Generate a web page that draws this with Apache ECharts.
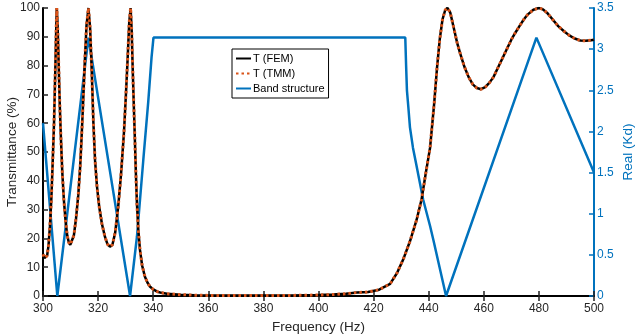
<!DOCTYPE html>
<html>
<head>
<meta charset="utf-8">
<script src="https://cdn.jsdelivr.net/npm/echarts@6/dist/echarts.min.js"></script>
<style>
  html, body { margin: 0; padding: 0; background: #fff; }
  #chart { width: 639px; height: 336px; }
</style>
</head>
<body>
<div id="chart"></div>
<script>
// transmittance: frequency (Hz) and T (%)
const tFreq = [300, 300.5, 301, 301.5, 302, 302.5, 303, 303.5, 304, 304.5, 304.8, 305, 305.3, 305.7, 306.1, 306.5, 307, 307.6, 308.2, 308.8, 309.4, 309.9,
  310.5, 311.2, 312, 312.8, 313.5, 314, 314.6, 315.2, 315.8, 316.5, 317.1, 317.7, 318.3, 318.9, 319.6, 320.4, 321.4, 322.5, 323.4, 324.3,
  325.2, 326.2, 327.3, 328.3, 329.4, 330.1, 330.7, 331.3, 331.8, 332.2, 332.5, 332.9, 333.3, 333.7, 334.1, 334.6, 335.2, 336, 337, 338, 338.8,
  340, 341.5, 343, 345, 350, 355, 360, 370, 380, 390, 400, 405, 410, 414, 418, 422, 426, 428.5, 430.8, 433.2, 435.6, 437.4, 439, 440.5,
  442, 443, 444, 445, 446, 446.8, 447.8, 449, 450.3, 451.5, 453, 454.5, 456, 457.5, 459, 460.5, 462, 463.5, 465.3, 467, 468.5, 470,
  471.5, 473, 474.5, 476, 478, 480, 481.5, 483, 485, 487, 489, 491, 493, 495, 497, 499, 500];
const tFem = [14.5, 13.2, 13, 14, 17.5, 24, 33, 46, 60, 80, 93, 100, 94, 80, 66, 55, 43, 33, 26, 21, 18.5, 17.8,
  18.3, 21, 27, 35, 45, 55, 68, 82, 94, 100, 93, 78, 60, 47, 38, 31, 25, 20.5, 18, 17.1,
  17.8, 22, 31, 42, 57, 70, 82, 95, 100, 92, 81, 68, 56, 43, 32, 23, 16, 10.5, 6.7, 4.5, 3.3,
  2.3, 1.5, 1.1, 0.8, 0.45, 0.3, 0.2, 0.15, 0.15, 0.2, 0.35, 0.5, 0.8, 1.2, 1.4, 2.2, 4.2, 8, 12.8, 19, 26.4, 33.5, 43, 51.5,
  67, 79, 89, 96, 99.3, 100, 98.5, 93.5, 88, 84, 79.5, 76, 73.5, 72.2, 71.8, 72.5, 74, 76, 79.6, 83, 86, 89,
  91.5, 93.8, 96, 97.8, 99.4, 100, 99.5, 98.3, 96, 93.7, 92, 90.5, 89.4, 88.7, 88.6, 88.8, 89];
// TMM curve sits on top of the FEM one
const tTmm = tFem.slice();

// band structure, Real(Kd)
const bFreq = [300, 305.2, 316.5, 331.6, 334.1, 336.4, 338.2, 339.4, 340.1, 431.5, 431.8, 432.1, 432.6, 433.2, 434.3, 435.6, 438, 440.5, 441.7, 446.3, 479.1, 500];
const bKd = [2.1, 0, 3.14, 0, 0.72, 1.65, 2.36, 2.9, 3.14, 3.14, 2.8, 2.5, 2.3, 2.05, 1.8, 1.58, 1.17, 0.85, 0.68, 0, 3.14, 1.5];

const pairs = (xs, ys) => xs.map((x, i) => [x, ys[i]]);

const blue = '#0072BD';
const orange = '#D95319';
const txt = '#262626';
const font = 'Liberation Sans, Arial, sans-serif';

const chart = echarts.init(document.getElementById('chart'));
chart.setOption({
  animation: false,
  textStyle: { fontFamily: font },
  grid: { left: 43, right: 45, top: 8, bottom: 40, containLabel: false, outerBoundsMode: 'none' },
  legend: {
    orient: 'vertical',
    left: 232,
    top: 49,
    padding: [4, 4, 4, 3],
    itemWidth: 15,
    itemHeight: 10,
    itemGap: 4,
    borderColor: '#000',
    borderWidth: 1,
    backgroundColor: '#fff',
    // hide the round marker, keep the line sample
    itemStyle: { color: 'rgba(0,0,0,0)', borderColor: 'rgba(0,0,0,0)', borderWidth: 0 },
    textStyle: { fontSize: 11, color: '#000', fontFamily: font, padding: [0, 0, 0, -3] },
    data: ['T (FEM)', 'T (TMM)', 'Band structure']
  },
  xAxis: [{
    type: 'value', min: 300, max: 500, interval: 20, position: 'bottom',
    name: 'Frequency (Hz)', nameLocation: 'middle', nameGap: 24,
    nameTextStyle: { fontSize: 13.5, color: txt, fontFamily: font },
    axisLine: { lineStyle: { color: '#000', width: 2 } },
    axisTick: { inside: true, length: 5, lineStyle: { color: '#222', width: 1.5 } },
    axisLabel: { fontSize: 12, color: txt, margin: 7, fontFamily: font },
    splitLine: { show: false }
  }, {
    type: 'value', min: 300, max: 500, interval: 20, position: 'top',
    axisLine: { lineStyle: { color: '#000', width: 2 } },
    axisTick: { inside: true, length: 5, lineStyle: { color: '#222', width: 1.5 } },
    axisLabel: { show: false },
    splitLine: { show: false }
  }],
  yAxis: [{
    type: 'value', min: 0, max: 100, interval: 10, position: 'left',
    name: 'Transmittance (%)', nameLocation: 'middle', nameGap: 24, nameRotate: 90, nameMoveOverlap: false,
    nameTextStyle: { fontSize: 13.5, color: txt, fontFamily: font },
    axisLine: { show: true, lineStyle: { color: '#000', width: 2 } },
    axisTick: { show: true, inside: true, length: 5, lineStyle: { color: '#222', width: 1.5 } },
    axisLabel: { fontSize: 12, color: txt, margin: 3, fontFamily: font },
    splitLine: { show: false }
  }, {
    type: 'value', min: 0, max: 3.5, interval: 0.5, position: 'right',
    name: 'Real (Kd)', nameLocation: 'middle', nameGap: 27, nameRotate: 90, nameMoveOverlap: false,
    nameTextStyle: { fontSize: 13.5, color: blue, fontFamily: font },
    axisLine: { show: true, lineStyle: { color: blue, width: 2 } },
    axisTick: { show: true, inside: true, length: 5, lineStyle: { color: blue, width: 1.5 } },
    axisLabel: { fontSize: 12, color: blue, margin: 3, fontFamily: font },
    splitLine: { show: false }
  }],
  series: [{
    name: 'Band structure', type: 'line', yAxisIndex: 1, symbol: 'none',
    data: pairs(bFreq, bKd),
    lineStyle: { color: blue, width: 2.5 },
    itemStyle: { color: blue },
    z: 2
  }, {
    name: 'T (FEM)', type: 'line', yAxisIndex: 0, symbol: 'none',
    data: pairs(tFreq, tFem),
    lineStyle: { color: '#000', width: 2.5 },
    itemStyle: { color: '#000' },
    z: 3
  }, {
    name: 'T (TMM)', type: 'line', yAxisIndex: 0, symbol: 'none',
    data: pairs(tFreq, tTmm),
    lineStyle: { color: orange, width: 3, type: [2.5, 3] },
    itemStyle: { color: orange },
    z: 4
  }]
});
</script>
</body>
</html>
